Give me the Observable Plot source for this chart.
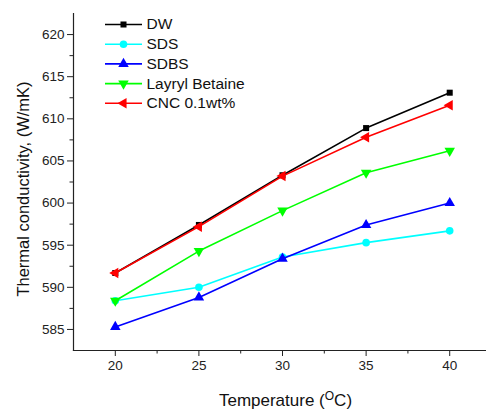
<!DOCTYPE html>
<html>
<head>
<meta charset="utf-8">
<script src="https://cdn.jsdelivr.net/npm/d3@7"></script>
<script src="https://cdn.jsdelivr.net/npm/@observablehq/plot@0.6"></script>
<style>
  html, body { margin: 0; padding: 0; background: #fff; }
  svg { display: block; }
</style>
</head>
<body>
<div id="chart"></div>
<script>
// ---- data ----
const temps = [20, 25, 30, 35, 40];
const seriesNames = ["DW", "SDS", "SDBS", "Layryl Betaine", "CNC 0.1wt%"];
const dw   = [591.7, 597.4, 603.3, 608.9, 613.1];
const sds  = [588.4, 590.0, 593.6, 595.3, 596.7];
const sdbs = [585.3, 588.8, 593.4, 597.4, 600.0];
const lb   = [588.4, 594.3, 599.1, 603.6, 606.2];
const cnc  = [591.7, 597.2, 603.2, 607.8, 611.6];
const xTicks = [20, 25, 30, 35, 40];
const xMinor = [22.5, 27.5, 32.5, 37.5];
const yTicks = [585, 590, 595, 600, 605, 610, 615, 620];
const yMinor = [587.5, 592.5, 597.5, 602.5, 607.5, 612.5, 617.5];

// ---- styling ----
const colors = ["#000000", "#00ffff", "#0000ff", "#00ff00", "#ff0000"];
const sq3 = Math.sqrt(3);
function triSide(size) { return Math.sqrt(4 * size / sq3); }
const triDown = { draw(ctx, size) { const a = triSide(size), h = a * sq3 / 2;
  ctx.moveTo(0, h * 2 / 3); ctx.lineTo(-a / 2, -h / 3); ctx.lineTo(a / 2, -h / 3); ctx.closePath(); } };
const triUp = { draw(ctx, size) { const a = triSide(size), h = a * sq3 / 2;
  ctx.moveTo(0, -h * 2 / 3); ctx.lineTo(-a / 2, h / 3); ctx.lineTo(a / 2, h / 3); ctx.closePath(); } };
const triLeft = { draw(ctx, size) { const a = triSide(size), h = a * sq3 / 2;
  ctx.moveTo(-h * 2 / 3, 0); ctx.lineTo(h / 3, -a / 2); ctx.lineTo(h / 3, a / 2); ctx.closePath(); } };
const hline = { draw(ctx, size) { ctx.moveTo(-18.5, 0); ctx.lineTo(18.5, 0); } };
const symbols = ["square", "circle", triUp, triDown, triLeft];
const radii = [3.4, 3.8, 3.9, 3.9, 3.9];
const values = [dw, sds, sdbs, lb, cnc];

const marks = [];
values.forEach((vals, i) => {
  const data = temps.map((t, j) => ({ t, v: vals[j] }));
  marks.push(Plot.line(data, { x: "t", y: "v", stroke: colors[i], strokeWidth: 1.6 }));
  marks.push(Plot.dot(data, { x: "t", y: "v", fill: colors[i], stroke: "none", symbol: symbols[i], r: radii[i] }));
});

// legend (top-left inside frame)
seriesNames.forEach((name, i) => {
  const dy = 11 + i * 19.7;
  marks.push(Plot.dot([name], { frameAnchor: "top-left", dx: 50, dy, symbol: hline, stroke: colors[i], strokeWidth: 1.6, fill: "none", r: 3 }));
  marks.push(Plot.dot([name], { frameAnchor: "top-left", dx: 50, dy, symbol: symbols[i], fill: colors[i], stroke: "none", r: radii[i] }));
  marks.push(Plot.text([name], { frameAnchor: "top-left", dx: 73, dy, text: d => d, textAnchor: "start", lineAnchor: "middle", fontSize: 15.5, fill: "#111" }));
});

const plot = Plot.plot({
  width: 486,
  height: 412,
  marginLeft: 73,
  marginTop: 13,
  marginRight: 0,
  marginBottom: 62,
  style: { fontFamily: "'Liberation Sans', Arial, sans-serif", color: "#222", background: "#fff" },
  x: { domain: [17.5, 42.2] },
  y: { domain: [582.5, 622.5] },
  marks: [
    Plot.frame({ anchor: "left", stroke: "#222", strokeWidth: 1.2 }),
    Plot.frame({ anchor: "bottom", stroke: "#222", strokeWidth: 1.2 }),
    Plot.axisX({ ticks: xTicks, tickSize: 6, tickPadding: 4, fontSize: 13.5, label: null, tickFormat: d => String(d) }),
    Plot.axisX({ ticks: xMinor, tickSize: 3.5, text: null, label: null }),
    Plot.axisY({ ticks: yTicks, tickSize: 6, tickPadding: 3, fontSize: 13.5, label: null, tickFormat: d => String(d) }),
    Plot.axisY({ ticks: yMinor, tickSize: 3.5, text: null, label: null }),
    ...marks,
    Plot.text(["Thermal conductivity, (W/mK)"], { frameAnchor: "left", dx: -49.5, dy: 7, rotate: -90, text: d => d, fontSize: 16.5, fill: "#111", textAnchor: "middle", lineAnchor: "middle" }),
    Plot.text(["Temperature (OC)"], { frameAnchor: "bottom", dx: 5.5, dy: 50, text: d => d, fontSize: 17, fill: "#111", textAnchor: "middle", lineAnchor: "middle", className: "xlabel" })
  ]
});

document.getElementById("chart").appendChild(plot);

// superscript O in x label
const t = plot.querySelector(".xlabel text");
if (t) {
  t.textContent = "";
  const ns = "http://www.w3.org/2000/svg";
  const a = document.createElementNS(ns, "tspan"); a.textContent = "Temperature (";
  const b = document.createElementNS(ns, "tspan"); b.textContent = "O"; b.setAttribute("font-size", "12"); b.setAttribute("dy", "-6");
  const c = document.createElementNS(ns, "tspan"); c.textContent = "C)"; c.setAttribute("dy", "6");
  t.appendChild(a); t.appendChild(b); t.appendChild(c);
}
</script>
</body>
</html>
